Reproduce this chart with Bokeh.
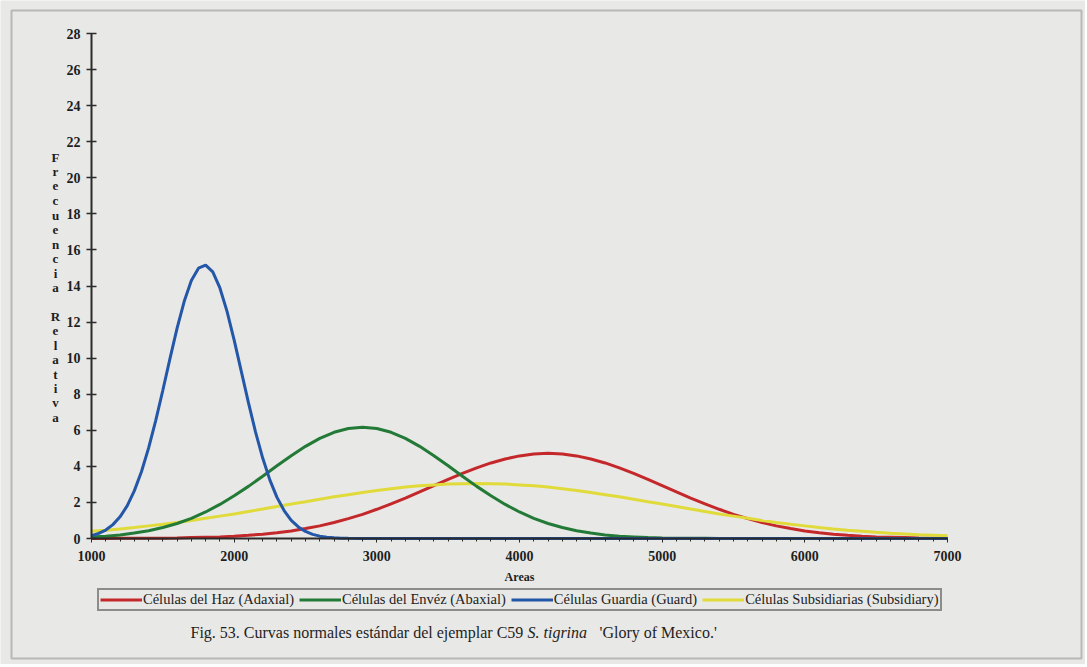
from bokeh.plotting import figure
from bokeh.models import (FixedTicker, Label, Legend, LegendItem, BoxAnnotation,
                          Range1d, LinearAxis)
from bokeh.embed import file_html
from bokeh.resources import INLINE

# ---------------- data ----------------
areas = list(range(1000, 7001, 100))

haz_adaxial = [0.00, 0.00, 0.01, 0.01, 0.01, 0.02, 0.03, 0.05, 0.07, 0.09,
               0.13, 0.18, 0.24, 0.32, 0.42, 0.55, 0.70, 0.89, 1.10, 1.34,
               1.62, 1.92, 2.24, 2.58, 2.93, 3.28, 3.61, 3.92, 4.19, 4.41,
               4.58, 4.69, 4.72, 4.69, 4.58, 4.41, 4.19, 3.92, 3.61, 3.28,
               2.93, 2.58, 2.24, 1.92, 1.62, 1.34, 1.10, 0.89, 0.70, 0.55,
               0.42, 0.32, 0.24, 0.18, 0.13, 0.09, 0.07, 0.05, 0.03, 0.02, 0.01]

enves_abaxial = [0.09, 0.13, 0.20, 0.30, 0.43, 0.61, 0.83, 1.12, 1.47, 1.89,
                 2.37, 2.89, 3.45, 4.03, 4.59, 5.11, 5.55, 5.89, 6.10, 6.17,
                 6.10, 5.89, 5.55, 5.11, 4.59, 4.03, 3.45, 2.89, 2.37, 1.89,
                 1.47, 1.12, 0.83, 0.61, 0.43, 0.30, 0.20, 0.13, 0.09, 0.05,
                 0.03, 0.02, 0.01, 0.01, 0.00, 0.00, 0.00, 0.00, 0.00, 0.00,
                 0.00, 0.00, 0.00, 0.00, 0.00, 0.00, 0.00, 0.00, 0.00, 0.00, 0.00]

subsidiarias = [0.40, 0.46, 0.53, 0.61, 0.70, 0.79, 0.89, 1.00, 1.12, 1.24,
                1.36, 1.50, 1.63, 1.77, 1.91, 2.04, 2.18, 2.31, 2.43, 2.55,
                2.66, 2.76, 2.85, 2.92, 2.97, 3.02, 3.04, 3.05, 3.04, 3.02,
                2.97, 2.92, 2.85, 2.76, 2.66, 2.55, 2.43, 2.31, 2.18, 2.04,
                1.91, 1.77, 1.63, 1.50, 1.36, 1.24, 1.12, 1.00, 0.89, 0.79,
                0.70, 0.61, 0.53, 0.46, 0.40, 0.34, 0.29, 0.25, 0.21, 0.18, 0.15]

guard_areas = [1000, 1050, 1100, 1150, 1200, 1250, 1300, 1350, 1400, 1450,
               1500, 1550, 1600, 1650, 1700, 1750, 1800, 1850, 1900, 1950,
               2000, 2050, 2100, 2150, 2200, 2250, 2300, 2350, 2400, 2450,
               2500, 2550, 2600, 2650, 2700, 2750, 2800, 2900, 3000, 4000,
               5000, 6000, 7000]
guardia = [0.16, 0.28, 0.47, 0.77, 1.20, 1.81, 2.64, 3.70, 5.01, 6.54,
           8.22, 9.97, 11.66, 13.15, 14.30, 14.99, 15.16, 14.78, 13.89, 12.59,
           11.00, 9.27, 7.53, 5.90, 4.46, 3.25, 2.28, 1.55, 1.01, 0.64,
           0.39, 0.23, 0.13, 0.07, 0.04, 0.02, 0.01, 0.00, 0.00, 0.00,
           0.00, 0.00, 0.00]

y_ticks = list(range(0, 29, 2))
x_ticks = list(range(1000, 7001, 1000))
x_minor = list(range(1000, 7001, 100))

labels = ["Células del Haz (Adaxial)", "Células del Envéz (Abaxial)",
          "Células Guardia (Guard)", "Células Subsidiarias (Subsidiary)"]
colors = ["#c4282b", "#227a36", "#2457a8", "#e0db3a"]

y_label_text = "Frecuencia Relativa"
caption_a = "Fig. 53. Curvas normales estándar del ejemplar C59"
caption_b = "S. tigrina"
caption_c = "'Glory of Mexico.'"

# ---------------- layout (pixels) ----------------
BG = "#e8e8e6"
W, H = 1085, 664
AX_L, AX_R = 91, 947      # pixel x of 1000 and 7000
AX_B, AX_T = 538, 33      # pixel y of 0 and 28
X0, X1 = 1000, 7000
Y0, Y1 = 0, 28
sx = (X1 - X0) / (AX_R - AX_L)
sy = (Y1 - Y0) / (AX_B - AX_T)
xr = Range1d(X0 - AX_L * sx, X1 + (W - AX_R) * sx)
yr = Range1d(Y0 - (H - AX_B) * sy, Y1 + AX_T * sy)

p = figure(width=W, height=H, output_backend="svg", toolbar_location=None,
           x_range=xr, y_range=yr, x_axis_type=None, y_axis_type=None,
           min_border=0)
p.background_fill_color = BG
p.border_fill_color = BG
p.outline_line_color = None
p.grid.visible = False

serif = "Liberation Serif"
ax_col = "#2b2b2b"
txt_col = "#1e1e1e"

xa = LinearAxis(fixed_location=0, bounds=(X0, X1))
xa.ticker = FixedTicker(ticks=x_ticks, minor_ticks=x_minor)
xa.axis_line_color = ax_col
xa.axis_line_width = 2
xa.major_tick_line_color = ax_col
xa.major_tick_in = 0
xa.major_tick_out = 4
xa.minor_tick_line_color = ax_col
xa.minor_tick_in = 0
xa.minor_tick_out = 3
xa.major_label_text_font = serif
xa.major_label_text_font_style = "bold"
xa.major_label_text_font_size = "14px"
xa.major_label_text_color = txt_col
xa.major_label_standoff = 8
xa.axis_label = "Areas"
xa.axis_label_text_font = serif
xa.axis_label_text_font_style = "bold"
xa.axis_label_text_font_size = "12px"
xa.axis_label_text_color = txt_col
xa.axis_label_standoff = 6
p.add_layout(xa, "below")

ya = LinearAxis(fixed_location=X0, bounds=(Y0, Y1))
ya.ticker = FixedTicker(ticks=y_ticks)
ya.axis_line_color = ax_col
ya.axis_line_width = 2
ya.major_tick_line_color = ax_col
ya.major_tick_line_width = 1.5
ya.major_tick_in = 5
ya.major_tick_out = 5
ya.minor_tick_line_color = None
ya.major_label_text_font = serif
ya.major_label_text_font_style = "bold"
ya.major_label_text_font_size = "14px"
ya.major_label_text_color = txt_col
ya.major_label_standoff = 6
p.add_layout(ya, "left")

r_red = p.line(areas, haz_adaxial, line_color=colors[0], line_width=3)
r_yel = p.line(areas, subsidiarias, line_color=colors[3], line_width=3)
r_grn = p.line(areas, enves_abaxial, line_color=colors[1], line_width=3)
r_blu = p.line(guard_areas, guardia, line_color=colors[2], line_width=3)

legend = Legend(items=[LegendItem(label=labels[0], renderers=[r_red]),
                       LegendItem(label=labels[1], renderers=[r_grn]),
                       LegendItem(label=labels[2], renderers=[r_blu]),
                       LegendItem(label=labels[3], renderers=[r_yel])],
                orientation="horizontal", location=(97, H - 611), margin=0,
                padding=1, spacing=5, glyph_width=42, glyph_height=17,
                label_standoff=1, label_height=17,
                label_text_font=serif, label_text_font_size="14.5px",
                label_text_color="#222222",
                border_line_color="#303030", border_line_width=2,
                background_fill_color=BG, background_fill_alpha=1.0)
p.add_layout(legend)

# stacked vertical axis title
for i, ch in enumerate(y_label_text):
    if ch == " ":
        continue
    py = 157 + 14.44 * i
    p.add_layout(Label(x=55, y=H - py, x_units="screen", y_units="screen",
                       text=ch, text_font=serif, text_font_style="bold",
                       text_font_size="13px", text_color=txt_col,
                       text_align="center", text_baseline="middle"))

# caption
cap_y = H - 632
p.add_layout(Label(x=190, y=cap_y, x_units="screen", y_units="screen",
                   text=caption_a, text_font=serif, text_font_size="16px",
                   text_color=txt_col, text_baseline="middle"))
p.add_layout(Label(x=527, y=cap_y, x_units="screen", y_units="screen",
                   text=caption_b, text_font=serif, text_font_size="16px",
                   text_font_style="italic",
                   text_color=txt_col, text_baseline="middle"))
p.add_layout(Label(x=599, y=cap_y, x_units="screen", y_units="screen",
                   text=caption_c, text_font=serif, text_font_size="16px",
                   text_color=txt_col, text_baseline="middle"))

# outer frame of the figure page
p.add_layout(BoxAnnotation(left=11, right=1081, top=H - 10, bottom=H - 658,
                           left_units="screen", right_units="screen",
                           top_units="screen", bottom_units="screen",
                           fill_alpha=0, line_color="#4a4a4a", line_width=2))

open("out.html", "w").write(file_html(p, INLINE))
